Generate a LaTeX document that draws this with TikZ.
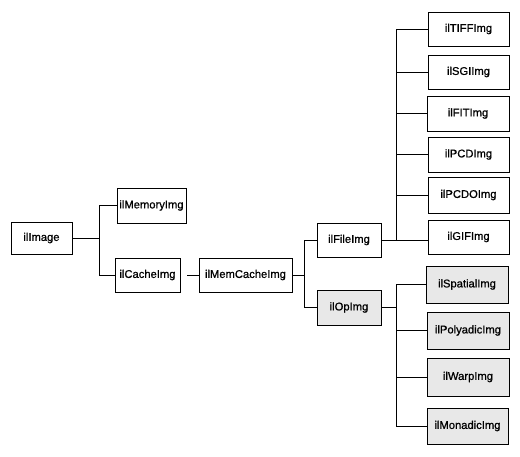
\documentclass[tikz,border=0pt]{standalone}
\usepackage{fontspec}
\setmainfont{Liberation Sans}
\newfontfamily\labfont{Liberation Sans}[FakeBold=0.8]
\begin{document}
\begin{tikzpicture}[x=1pt,y=-1pt,
  box/.style={draw=black, line width=0.9pt, fill=white, inner sep=0pt, minimum width=#1, font=\labfont\fontsize{11.2}{13}\selectfont},
  box/.default=81pt,
  opbox/.style={box=#1, fill=gray!18},
  opbox/.default=81pt,
  link/.style={draw=black, line width=0.9pt}]
\useasboundingbox (0,0) rectangle (520,456);
% left part
\node[box=61pt, minimum height=32pt] (image) at (41.5,238) {ilImage};
\node[box=69pt, minimum height=35pt] (memory) at (151.5,205.5) {ilMemoryImg};
\node[box=65pt, minimum height=34pt] (cache) at (147.5,275) {ilCacheImg};
\node[box=93pt, minimum height=34pt] (memcache) at (245.5,275) {ilMemCacheImg};
\node[box=64pt, minimum height=34pt] (file) at (349,240) {ilFileImg};
\node[opbox=64pt, minimum height=35pt] (op) at (349,307.5) {ilOpImg};
% file children
\node[box, minimum height=34pt] (tiff) at (468.5,29) {ilTIFFImg};
\node[box, minimum height=34pt] (sgi) at (468.5,72) {ilSGIImg};
\node[box=82pt, minimum height=35pt] (fit) at (468,113.5) {ilFITImg};
\node[box, minimum height=35pt] (pcd) at (468.5,154.5) {ilPCDImg};
\node[box, minimum height=36pt] (pcdo) at (468.5,195) {ilPCDOImg};
\node[box, minimum height=34pt] (gif) at (468.5,237) {ilGIFImg};
% op children
\node[opbox=82pt, minimum height=37pt] (spatial) at (467,284.5) {ilSpatialImg};
\node[opbox=82pt, minimum height=37pt] (polyadic) at (468,330.5) {ilPolyadicImg};
\node[opbox=82pt, minimum height=38pt] (warp) at (468,377) {ilWarpImg};
\node[opbox=81pt, minimum height=36pt] (monadic) at (467.5,426) {ilMonadicImg};
% trunk coordinates
\coordinate (t1) at (99,0);
\coordinate (t2) at (304,0);
\coordinate (t3) at (396,0);
% connectors
\draw[link] (image.east) -- (image.east -| t1);
\draw[link] (image.east -| t1) |- (memory.west);
\draw[link] (image.east -| t1) |- (cache.west);
\draw[link, shorten <=7pt] (cache.east) -- (memcache.west);
\draw[link] (memcache.east) -- (memcache.east -| t2);
\draw[link] (memcache.east -| t2) |- (file.west);
\draw[link] (memcache.east -| t2) |- (op.west);
\draw[link] (file.east) -- (file.east -| gif.west);
\foreach \c in {tiff,sgi,fit,pcd,pcdo} {
  \draw[link] (file.east -| t3) |- (\c.west);
}
\draw[link] (op.east) -- (op.east -| t3);
\draw[link] (spatial.west -| t3) -- (monadic.west -| t3);
\foreach \c in {spatial,polyadic,warp,monadic} {
  \draw[link] (\c.west -| t3) -- (\c.west);
}
\end{tikzpicture}
\end{document}
